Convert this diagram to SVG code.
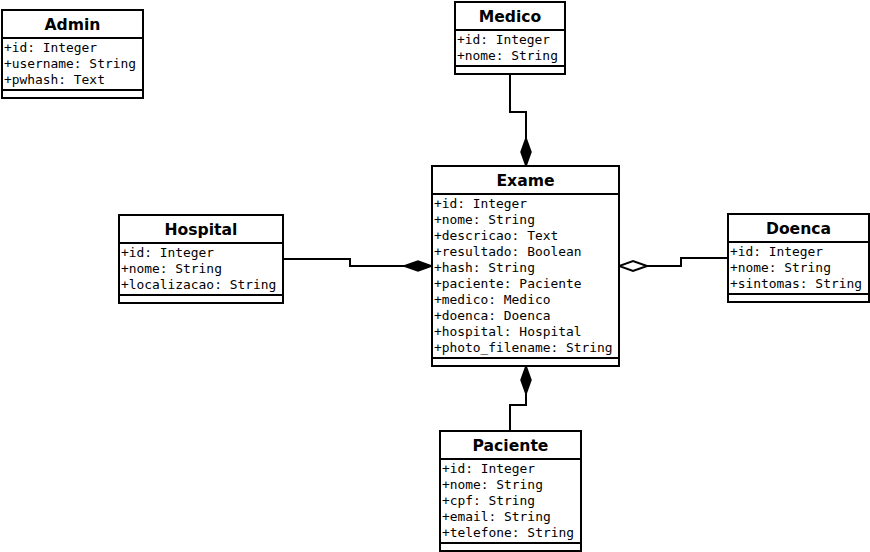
<svg xmlns="http://www.w3.org/2000/svg" width="870" height="552" viewBox="0 0 870 552">
<style>
.box{fill:#ffffff;stroke:#000000;stroke-width:2}
.ln{fill:none;stroke:#000000;stroke-width:2}
.t{font-family:"DejaVu Sans",Verdana,sans-serif;font-weight:bold;font-size:15.6px;text-anchor:middle;fill:#000}
.a{font-family:"DejaVu Sans Mono","Liberation Mono",monospace;font-size:12.9px;fill:#000}
.c{fill:none;stroke:#000;stroke-width:2}
</style>
<defs>
<marker id="fd" viewBox="-1 -7 31 14" markerWidth="31" markerHeight="14" refX="28" refY="0" orient="auto" markerUnits="userSpaceOnUse">
<path d="M0,0 L14,-5 L28,0 L14,5 Z" fill="#000" stroke="#000" stroke-width="1.5"/>
</marker>
<marker id="hd" viewBox="-1 -7 31 14" markerWidth="31" markerHeight="14" refX="28" refY="0" orient="auto" markerUnits="userSpaceOnUse">
<path d="M0,0 L14,-5 L28,0 L14,5 Z" fill="#fff" stroke="#000" stroke-width="2"/>
</marker>
</defs>
<rect width="870" height="552" fill="#ffffff"/>
<g id="connectors">
<polyline class="c" points="510,74 510,112 526,112 526,166" marker-end="url(#fd)"/>
<polyline class="c" points="510,431 510,405 526,405 526,366" marker-end="url(#fd)"/>
<polyline class="c" points="283,259 350,259 350,266 432,266" marker-end="url(#fd)"/>
<polyline class="c" points="728,258 681,258 681,266 619,266" marker-end="url(#hd)"/>
</g>
<g id="admin">
<rect class="box" x="2" y="10" width="141" height="88"/>
<line class="ln" x1="2" y1="38" x2="143" y2="38"/>
<line class="ln" x1="2" y1="90" x2="143" y2="90"/>
<text class="t" x="72.5" y="30">Admin</text>
<text class="a" x="4" y="52">+id: Integer</text>
<text class="a" x="4" y="68">+username: String</text>
<text class="a" x="4" y="84">+pwhash: Text</text>
</g>
<g id="medico">
<rect class="box" x="455" y="2" width="110" height="72"/>
<line class="ln" x1="455" y1="30" x2="565" y2="30"/>
<line class="ln" x1="455" y1="66" x2="565" y2="66"/>
<text class="t" x="510" y="22">Medico</text>
<text class="a" x="457" y="44">+id: Integer</text>
<text class="a" x="457" y="60">+nome: String</text>
</g>
<g id="exame">
<rect class="box" x="432" y="166" width="187" height="200"/>
<line class="ln" x1="432" y1="194" x2="619" y2="194"/>
<line class="ln" x1="432" y1="358" x2="619" y2="358"/>
<text class="t" x="525.5" y="186">Exame</text>
<text class="a" x="434" y="208">+id: Integer</text>
<text class="a" x="434" y="224">+nome: String</text>
<text class="a" x="434" y="240">+descricao: Text</text>
<text class="a" x="434" y="256">+resultado: Boolean</text>
<text class="a" x="434" y="272">+hash: String</text>
<text class="a" x="434" y="288">+paciente: Paciente</text>
<text class="a" x="434" y="304">+medico: Medico</text>
<text class="a" x="434" y="320">+doenca: Doenca</text>
<text class="a" x="434" y="336">+hospital: Hospital</text>
<text class="a" x="434" y="352">+photo_filename: String</text>
</g>
<g id="hospital">
<rect class="box" x="119" y="215" width="164" height="88"/>
<line class="ln" x1="119" y1="243" x2="283" y2="243"/>
<line class="ln" x1="119" y1="295" x2="283" y2="295"/>
<text class="t" x="201" y="235">Hospital</text>
<text class="a" x="121" y="257">+id: Integer</text>
<text class="a" x="121" y="273">+nome: String</text>
<text class="a" x="121" y="289">+localizacao: String</text>
</g>
<g id="doenca">
<rect class="box" x="728" y="214" width="141" height="88"/>
<line class="ln" x1="728" y1="242" x2="869" y2="242"/>
<line class="ln" x1="728" y1="294" x2="869" y2="294"/>
<text class="t" x="798.5" y="234">Doenca</text>
<text class="a" x="730" y="256">+id: Integer</text>
<text class="a" x="730" y="272">+nome: String</text>
<text class="a" x="730" y="288">+sintomas: String</text>
</g>
<g id="paciente">
<rect class="box" x="440" y="431" width="141" height="120"/>
<line class="ln" x1="440" y1="459" x2="581" y2="459"/>
<line class="ln" x1="440" y1="543" x2="581" y2="543"/>
<text class="t" x="510.5" y="451">Paciente</text>
<text class="a" x="442" y="473">+id: Integer</text>
<text class="a" x="442" y="489">+nome: String</text>
<text class="a" x="442" y="505">+cpf: String</text>
<text class="a" x="442" y="521">+email: String</text>
<text class="a" x="442" y="537">+telefone: String</text>
</g>
</svg>
